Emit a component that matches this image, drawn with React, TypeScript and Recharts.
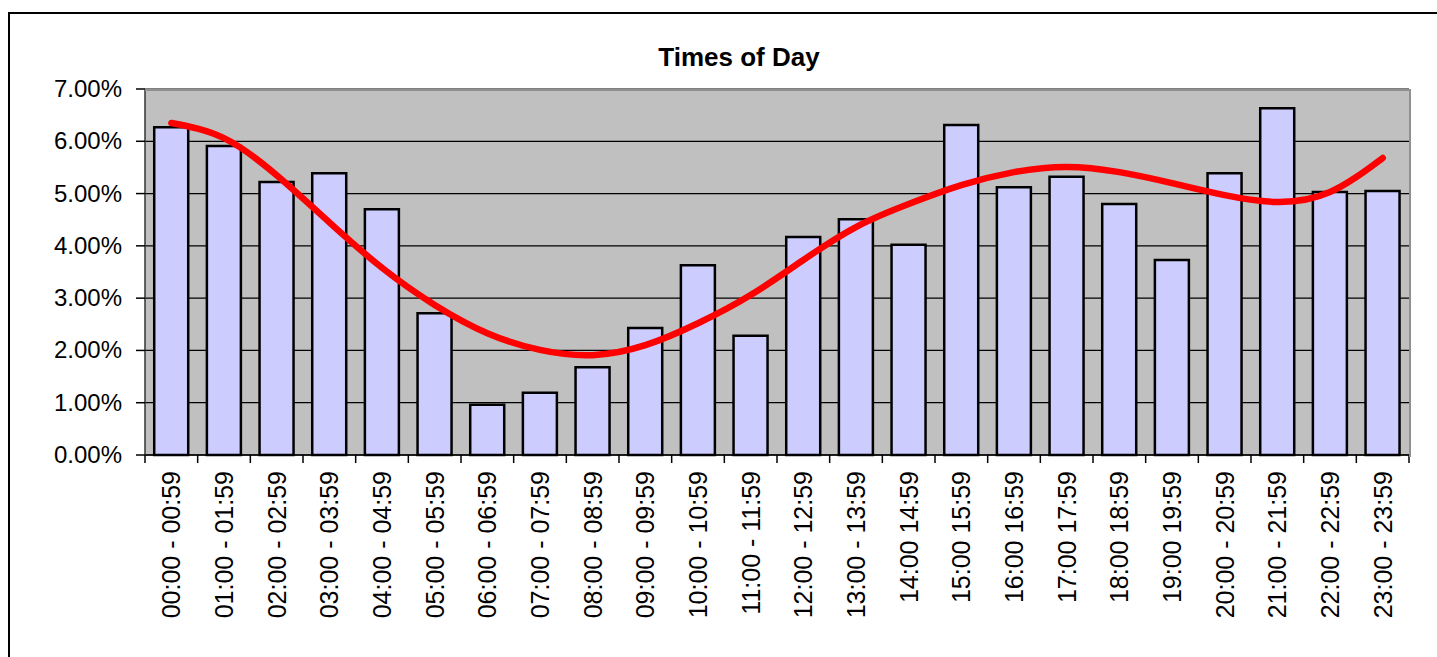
import { ComposedChart, Bar, Line, XAxis, YAxis, CartesianGrid } from "recharts";

const hours = [
  "00:00 - 00:59", "01:00 - 01:59", "02:00 - 02:59", "03:00 - 03:59",
  "04:00 - 04:59", "05:00 - 05:59", "06:00 - 06:59", "07:00 - 07:59",
  "08:00 - 08:59", "09:00 - 09:59", "10:00 - 10:59", "11:00 - 11:59",
  "12:00 - 12:59", "13:00 - 13:59", "14:00 14:59", "15:00 15:59",
  "16:00 16:59", "17:00 17:59", "18:00 18:59", "19:00 19:59",
  "20:00 - 20:59", "21:00 - 21:59", "22:00 - 22:59", "23:00 - 23:59",
];

// share of visits per hour (%)
const share = [
  6.27, 5.91, 5.22, 5.39, 4.70, 2.71, 0.96, 1.19, 1.68, 2.43, 3.63, 2.28,
  4.17, 4.51, 4.02, 6.31, 5.12, 5.32, 4.80, 3.73, 5.39, 6.63, 5.03, 5.05,
];

// polynomial trendline (%)
const trend = [
  6.35, 6.06, 5.35, 4.45, 3.58, 2.87, 2.33, 2.01, 1.91, 2.10, 2.52, 3.06,
  3.73, 4.36, 4.80, 5.16, 5.41, 5.51, 5.41, 5.20, 4.97, 4.84, 5.03, 5.68,
];

const yTicks = [0, 1, 2, 3, 4, 5, 6, 7];

const data = hours.map((h, i) => ({ hour: h, share: share[i], trend: trend[i] }));

const FONT = "'Liberation Sans', Arial, sans-serif";
const BAND = (1409 - 145) / hours.length;

function HourTick(props: any) {
  const { x, y, payload, index } = props;
  return (
    <g>
      <line x1={x - BAND / 2} y1={y} x2={x - BAND / 2} y2={y + 8} stroke="#000" strokeWidth={1.5} />
      {index === hours.length - 1 && (
        <line x1={x + BAND / 2} y1={y} x2={x + BAND / 2} y2={y + 8} stroke="#000" strokeWidth={1.5} />
      )}
      <text
        transform={`translate(${x + 9},${y + 16}) rotate(-90)`}
        textAnchor="end"
        fontSize={25}
        fontFamily={FONT}
        fill="#000"
      >
        {payload.value}
      </text>
    </g>
  );
}

function PctTick(props: any) {
  const { x, y, payload } = props;
  return (
    <text x={x} y={y} dy={8} textAnchor="end" fontSize={24} fontFamily={FONT} fill="#000">
      {payload.value.toFixed(2) + "%"}
    </text>
  );
}

export default function App() {
  return (
    <div style={{ position: "absolute", left: 0, top: 0, width: 1437, height: 657, overflow: "hidden", background: "#fff" }}>
      <div
        style={{
          position: "absolute", left: 8, top: 12, width: 1440, height: 660,
          borderTop: "2px solid #000", borderLeft: "2px solid #000",
        }}
      />
      <div style={{ position: "absolute", left: 8, top: 12 }}>
        <ComposedChart
          width={1429}
          height={645}
          data={data}
          margin={{ top: 77, right: 28, left: 0, bottom: 0 }}
          barCategoryGap="17.5%"
        >
          <text x={731} y={54} textAnchor="middle" fontSize={26} fontWeight="bold" fontFamily={FONT} fill="#000">
            Times of Day
          </text>
          <CartesianGrid vertical={false} fill="#c0c0c0" stroke="#000" strokeWidth={1.2} />
          <XAxis
            dataKey="hour"
            interval={0}
            height={202}
            tick={<HourTick />}
            tickLine={false}
            tickSize={0}
            tickMargin={0}
            axisLine={{ stroke: "#000", strokeWidth: 1.5 }}
          />
          <YAxis
            domain={[0, 7]}
            ticks={yTicks}
            width={137}
            tick={<PctTick />}
            tickSize={9}
            tickMargin={14}
            tickLine={{ stroke: "#000", strokeWidth: 1.5 }}
            axisLine={{ stroke: "#333", strokeWidth: 1.5 }}
          />
          <Bar dataKey="share" fill="#ccccff" stroke="#000" strokeWidth={2.5} isAnimationActive={false} />
          <Line
            type="natural"
            dataKey="trend"
            stroke="#ff0000"
            strokeWidth={6.5}
            strokeLinecap="round"
            dot={false}
            isAnimationActive={false}
          />
        </ComposedChart>
      </div>
      <div
        style={{
          position: "absolute", left: 145, top: 89, width: 1264, height: 366,
          borderTop: "2px solid #909090", borderRight: "2px solid #909090", pointerEvents: "none",
        }}
      />
    </div>
  );
}
